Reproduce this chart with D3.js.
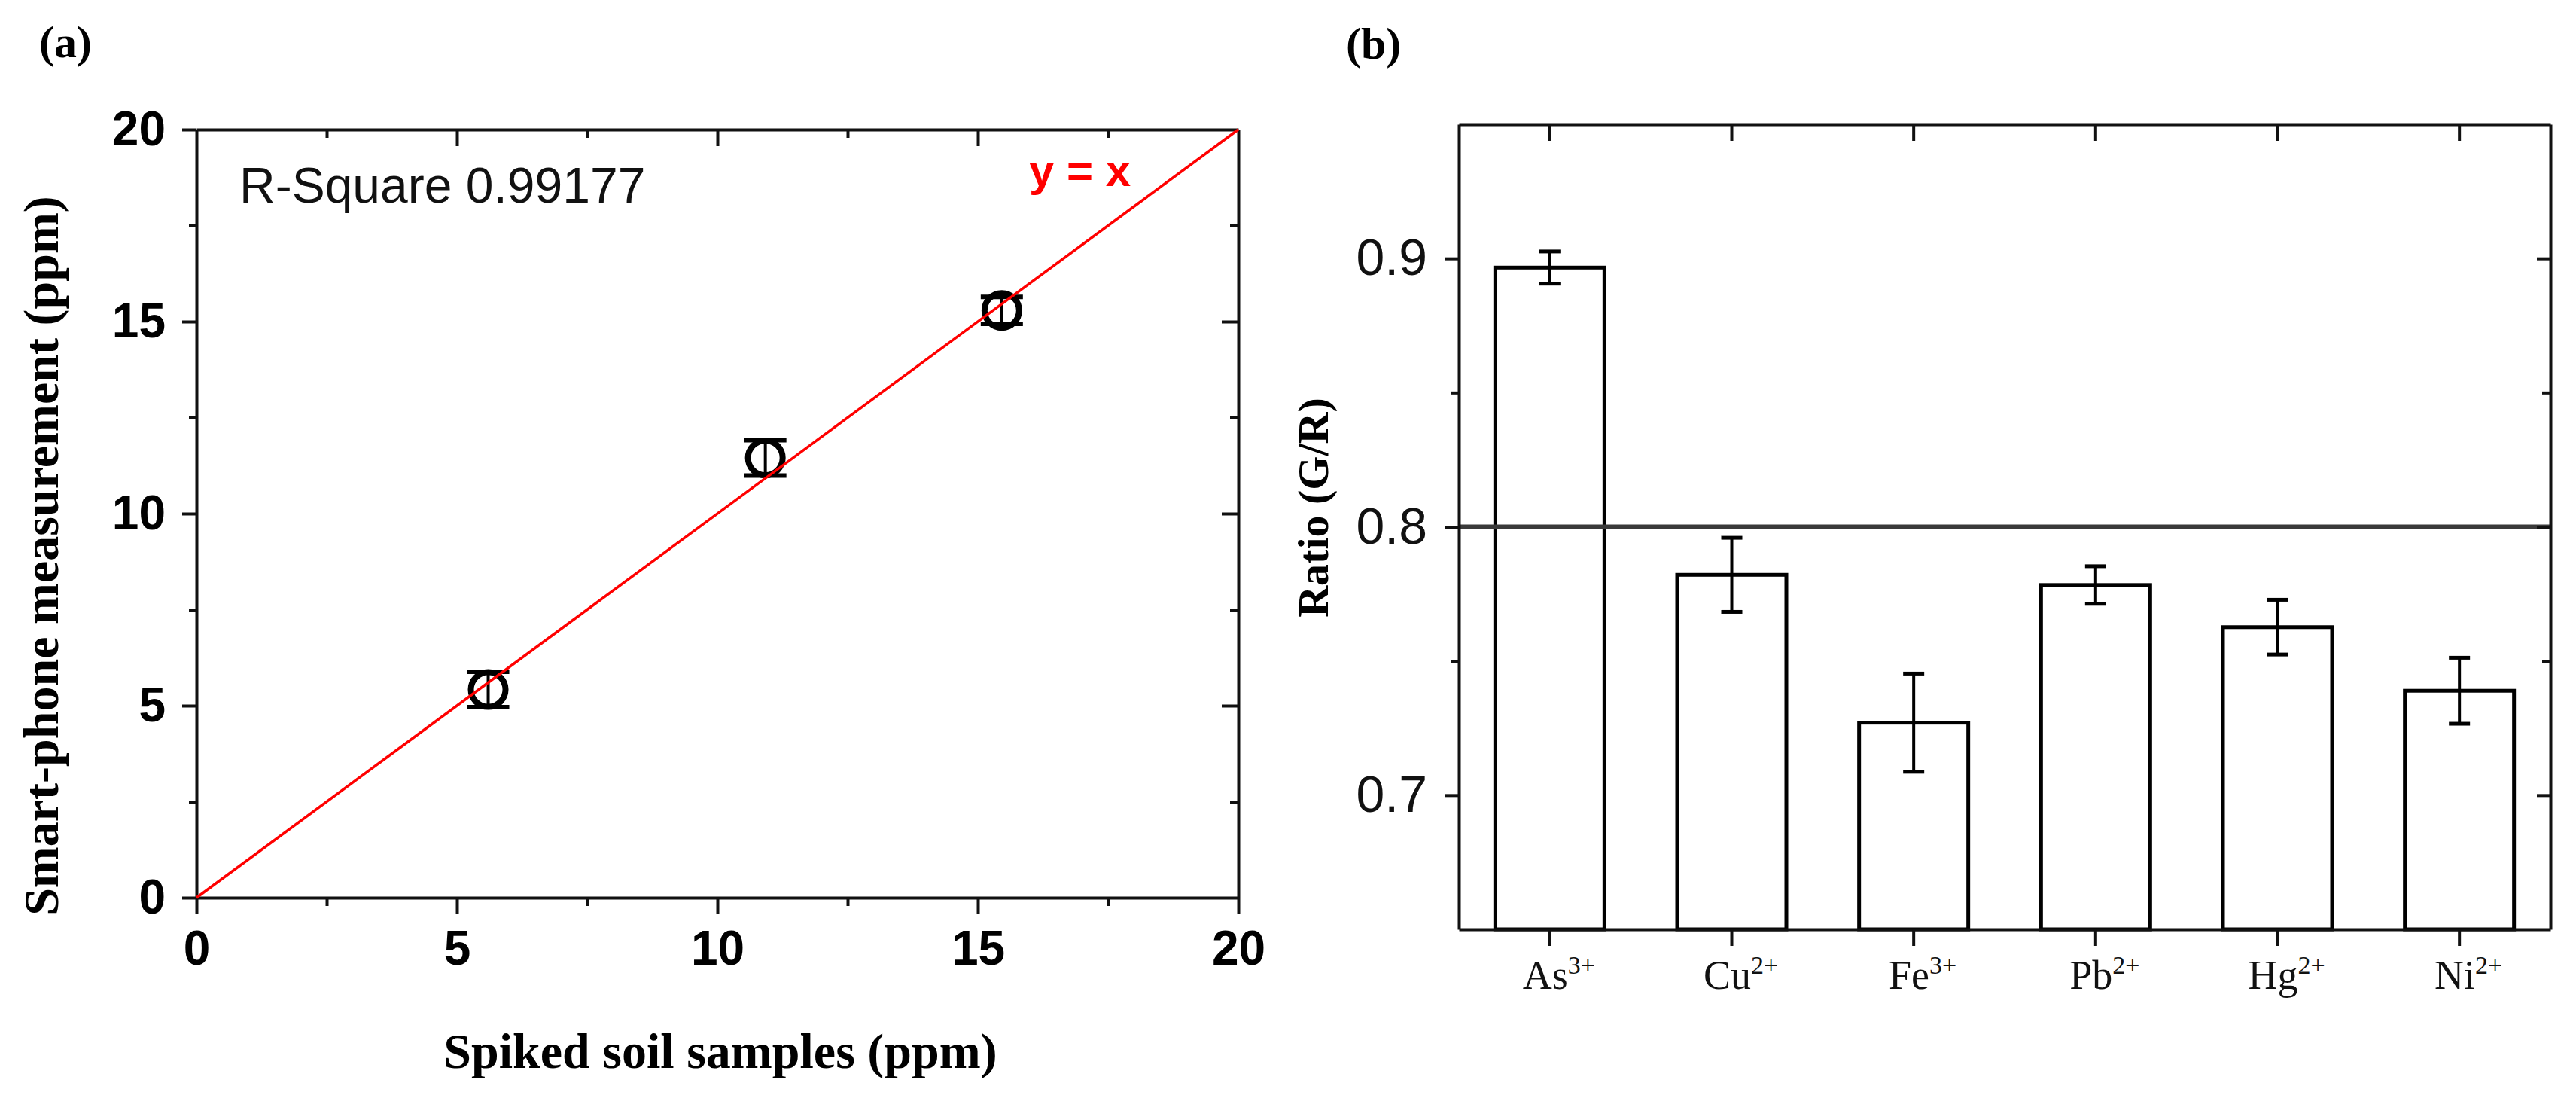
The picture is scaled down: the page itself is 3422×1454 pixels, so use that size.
<!DOCTYPE html>
<html>
<head>
<meta charset="utf-8">
<script src="https://cdn.jsdelivr.net/npm/d3@7"></script>
<style>
  body { margin: 0; background: #fff; }
</style>
</head>
<body>
<div class="figure"></div>
<script>
// (a) spiked soil vs smart-phone reading
var spiked = [5.6, 10.92, 15.46]
var measured = [5.42, 11.45, 15.29]
var measuredErr = [0.46, 0.46, 0.35]
var fitLine = [0, 20]
var majorA = [0, 5, 10, 15, 20]
var minorA = [2.5, 7.5, 12.5, 17.5]

// (b) G/R ratio per ion
var ions = ["As", "Cu", "Fe", "Pb", "Hg", "Ni"]
var charges = ["3+", "2+", "3+", "2+", "2+", "2+"]
var ratio = [0.8966, 0.7821, 0.7270, 0.7783, 0.7626, 0.7389]
var ratioErr = [0.006, 0.0138, 0.0183, 0.007, 0.0102, 0.0123]
var threshold = 0.8
var majorB = [0.7, 0.8, 0.9]
var minorB = [0.75, 0.85]

var svg = d3.select(".figure")
    .append("svg")
    .attr("width", 3422)
    .attr("height", 1454)

var sans = "'Liberation Sans', Arial, sans-serif"
var serif = "'Liberation Serif', 'Times New Roman', serif"

function styleAxis(g, w) {
    g.select(".domain").attr("stroke", "#111").attr("stroke-width", w)
    g.selectAll(".tick line").attr("stroke", "#111").attr("stroke-width", w)
    return g
}

// ---------- panel (a) ----------
var xA = d3.scaleLinear().domain([0, 20]).range([261, 1645])
var yA = d3.scaleLinear().domain([0, 20]).range([1192, 172])

var gx = svg.append("g").attr("transform", "translate(0,1192)")
    .call(d3.axisBottom(xA).tickValues(majorA).tickSize(21).tickSizeOuter(0).tickPadding(23))
styleAxis(gx, 4)
gx.selectAll("text").style("font-family", sans).style("font-weight", "bold")
    .style("font-size", "64px").attr("fill", "#000")
svg.append("g").attr("transform", "translate(0,1192)")
    .call(d3.axisBottom(xA).tickValues(minorA).tickSize(11).tickFormat(""))
    .call(g => styleAxis(g, 4)).select(".domain").remove()

var gy = svg.append("g").attr("transform", "translate(261,0)")
    .call(d3.axisLeft(yA).tickValues(majorA).tickSize(19).tickSizeOuter(0).tickPadding(22))
styleAxis(gy, 4)
gy.selectAll("text").style("font-family", sans).style("font-weight", "bold")
    .style("font-size", "64px").attr("fill", "#000")
svg.append("g").attr("transform", "translate(261,0)")
    .call(d3.axisLeft(yA).tickValues(minorA).tickSize(10).tickFormat(""))
    .call(g => styleAxis(g, 4)).select(".domain").remove()

// top and right, ticks pointing inward
svg.append("g").attr("transform", "translate(0,172)")
    .call(d3.axisTop(xA).tickValues(majorA.slice(1, 4)).tickSize(-22).tickSizeOuter(0).tickFormat(""))
    .call(g => styleAxis(g, 4))
svg.append("g").attr("transform", "translate(0,172)")
    .call(d3.axisTop(xA).tickValues(minorA).tickSize(-11).tickFormat(""))
    .call(g => styleAxis(g, 4)).select(".domain").remove()
svg.append("g").attr("transform", "translate(1645,0)")
    .call(d3.axisRight(yA).tickValues(majorA.slice(1, 4)).tickSize(-22).tickSizeOuter(0).tickFormat(""))
    .call(g => styleAxis(g, 4))
svg.append("g").attr("transform", "translate(1645,0)")
    .call(d3.axisRight(yA).tickValues(minorA).tickSize(-11).tickFormat(""))
    .call(g => styleAxis(g, 4)).select(".domain").remove()

// points with error bars
spiked.forEach((d, i) => {
    var cx = xA(d)
    var top = yA(measured[i] + measuredErr[i])
    var bot = yA(measured[i] - measuredErr[i])
    svg.append("line")
        .attr("x1", cx).attr("x2", cx).attr("y1", top).attr("y2", bot)
        .style("stroke", "#000").style("stroke-width", 4)
    ;[top, bot].forEach(yy => {
        svg.append("line")
            .attr("x1", cx - 28).attr("x2", cx + 28).attr("y1", yy).attr("y2", yy)
            .style("stroke", "#000").style("stroke-width", 6)
    })
    svg.append("circle")
        .attr("cx", cx).attr("cy", yA(measured[i])).attr("r", 23)
        .style("fill", "none").style("stroke", "#000").style("stroke-width", 8)
})

// y = x
svg.append("line")
    .attr("x1", xA(fitLine[0])).attr("y1", yA(fitLine[0]))
    .attr("x2", xA(fitLine[1])).attr("y2", yA(fitLine[1]))
    .style("stroke", "#ff0000").style("stroke-width", 3.5)

svg.append("text")
    .attr("x", 318).attr("y", 269)
    .text("R-Square 0.99177")
    .style("font-size", "66px").attr("font-family", sans).attr("fill", "#111")

svg.append("text")
    .attr("x", 1367).attr("y", 247)
    .text("y = x")
    .style("font-size", "60px").attr("font-family", sans).attr("font-weight", "bold")
    .attr("fill", "#ff0000")

svg.append("text")
    .attr("x", 957).attr("y", 1418)
    .attr("text-anchor", "middle")
    .text("Spiked soil samples (ppm)")
    .style("font-size", "66px").attr("font-family", serif).attr("font-weight", "bold")

svg.append("text")
    .attr("transform", "translate(77,738) rotate(-90)")
    .attr("text-anchor", "middle")
    .text("Smart-phone measurement (ppm)")
    .style("font-size", "66px").attr("font-family", serif).attr("font-weight", "bold")

svg.append("text")
    .attr("x", 52).attr("y", 76)
    .text("(a)")
    .style("font-size", "60px").attr("font-family", serif).attr("font-weight", "bold")

// ---------- panel (b) ----------
var xB = d3.scaleBand().domain(ions).range([1938, 3388]).padding(0)
var yB = d3.scaleLinear().domain([0.65, 0.95]).range([1234, 165])
var barW = xB.bandwidth() * 0.6

// bars under the axes
ions.forEach((d, i) => {
    var cx = xB(d) + xB.bandwidth() / 2
    svg.append("rect")
        .attr("x", cx - barW / 2).attr("y", yB(ratio[i]))
        .attr("width", barW).attr("height", yB(0.65) - yB(ratio[i]))
        .style("fill", "#fff").style("stroke", "#000").style("stroke-width", 5)
    var top = yB(ratio[i] + ratioErr[i])
    var bot = yB(ratio[i] - ratioErr[i])
    svg.append("line")
        .attr("x1", cx).attr("x2", cx).attr("y1", top).attr("y2", bot)
        .style("stroke", "#000").style("stroke-width", 4)
    ;[top, bot].forEach(yy => {
        svg.append("line")
            .attr("x1", cx - 14).attr("x2", cx + 14).attr("y1", yy).attr("y2", yy)
            .style("stroke", "#000").style("stroke-width", 5)
    })
})

// threshold line
svg.append("line")
    .attr("x1", 1938).attr("x2", 3388)
    .attr("y1", yB(threshold)).attr("y2", yB(threshold))
    .style("stroke", "#3a3a3a").style("stroke-width", 6)

var gbx = svg.append("g").attr("transform", "translate(0,1234)")
    .call(d3.axisBottom(xB).tickSize(22).tickSizeOuter(0).tickFormat(""))
styleAxis(gbx, 4)
svg.append("g").attr("transform", "translate(0,165)")
    .call(d3.axisTop(xB).tickSize(-22).tickSizeOuter(0).tickFormat(""))
    .call(g => styleAxis(g, 4))

// ion labels with charge as superscript
ions.forEach((d, i) => {
    var t = svg.append("text")
        .attr("x", xB(d) + xB.bandwidth() / 2 + 12).attr("y", 1313)
        .attr("text-anchor", "middle")
        .attr("font-family", serif).style("font-size", "54px").attr("fill", "#111")
    t.append("tspan").text(d)
    t.append("tspan").attr("dy", -20).style("font-size", "34px").text(charges[i])
})

var gby = svg.append("g").attr("transform", "translate(1938,0)")
    .call(d3.axisLeft(yB).tickValues(majorB).tickSize(18).tickSizeOuter(0).tickPadding(24)
        .tickFormat(d3.format(".1f")))
styleAxis(gby, 4)
gby.selectAll("text").style("font-family", sans).style("font-size", "68px").attr("fill", "#111")
svg.append("g").attr("transform", "translate(1938,0)")
    .call(d3.axisLeft(yB).tickValues(minorB).tickSize(11).tickFormat(""))
    .call(g => styleAxis(g, 4)).select(".domain").remove()

svg.append("g").attr("transform", "translate(3388,0)")
    .call(d3.axisRight(yB).tickValues(majorB).tickSize(-18).tickSizeOuter(0).tickFormat(""))
    .call(g => styleAxis(g, 4))
svg.append("g").attr("transform", "translate(3388,0)")
    .call(d3.axisRight(yB).tickValues(minorB).tickSize(-11).tickFormat(""))
    .call(g => styleAxis(g, 4)).select(".domain").remove()

svg.append("text")
    .attr("transform", "translate(1764,674) rotate(-90)")
    .attr("text-anchor", "middle")
    .text("Ratio (G/R)")
    .style("font-size", "58px").attr("font-family", serif).attr("font-weight", "bold")

svg.append("text")
    .attr("x", 1788).attr("y", 78)
    .text("(b)")
    .style("font-size", "60px").attr("font-family", serif).attr("font-weight", "bold")
</script>
</body>
</html>
